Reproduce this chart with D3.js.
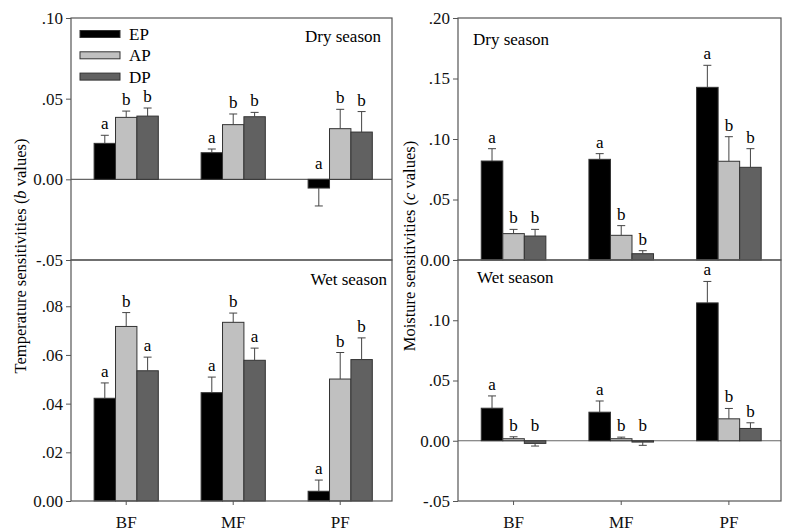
<!DOCTYPE html>
<html lang="en">

<head>
    <meta charset="UTF-8" />
    <title>Temperature and moisture sensitivities</title>
    <style>
        body { margin: 0; background: #fff; }
        svg { display: block; }
        svg text { font-family: 'Liberation Serif', 'Times New Roman', serif; }
    </style>
</head>

<body>
    <svg id="chart" width="787" height="531"></svg>

    <script src="https://d3js.org/d3.v7.min.js"></script>
    <script>
        // forests and treatments
        const forests = ['BF', 'MF', 'PF'];
        const treatments = ['EP', 'AP', 'DP'];
        const fills = ['#000000', '#c0c0c0', '#616161'];

        // temperature sensitivities (b), rows = forests, cols = treatments
        const tempDryMean = [[0.0223, 0.0384, 0.0392], [0.0165, 0.0339, 0.0388], [-0.0054, 0.0314, 0.0293]];
        const tempDryErr = [[0.0050, 0.0039, 0.0050], [0.0023, 0.0066, 0.0027], [0.0111, 0.0120, 0.0127]];
        const tempDryLetters = [['a', 'b', 'b'], ['a', 'b', 'b'], ['a', 'b', 'b']];

        const tempWetMean = [[0.0422, 0.0717, 0.0535], [0.0445, 0.0734, 0.0578], [0.0040, 0.0501, 0.0581]];
        const tempWetErr = [[0.0063, 0.0057, 0.0056], [0.0064, 0.0038, 0.0050], [0.0046, 0.0109, 0.0089]];
        const tempWetLetters = [['a', 'b', 'a'], ['a', 'b', 'a'], ['a', 'b', 'b']];

        // moisture sensitivities (c)
        const moistDryMean = [[0.0818, 0.0218, 0.0198], [0.0832, 0.0204, 0.0052], [0.1427, 0.0816, 0.0766]];
        const moistDryErr = [[0.0102, 0.0035, 0.0055], [0.0047, 0.0080, 0.0025], [0.0182, 0.0203, 0.0154]];
        const moistDryLetters = [['a', 'b', 'b'], ['a', 'b', 'b'], ['a', 'b', 'b']];

        const moistWetMean = [[0.0270, 0.0017, -0.0022], [0.0237, 0.0017, -0.0011], [0.1144, 0.0182, 0.0102]];
        const moistWetErr = [[0.0102, 0.0016, 0.0022], [0.0093, 0.0013, 0.0027], [0.0178, 0.0086, 0.0047]];
        const moistWetLetters = [['a', 'b', 'b'], ['a', 'b', 'b'], ['a', 'b', 'b']];

        // y ticks per panel
        const tempDryTicks = [-0.05, 0, 0.05, 0.10];
        const tempWetTicks = [0, 0.02, 0.04, 0.06, 0.08];
        const moistDryTicks = [0, 0.05, 0.10, 0.15, 0.20];
        const moistWetTicks = [-0.05, 0, 0.05, 0.10];

        const svg = d3.select('#chart');
        const frameColor = '#555';
        const fmt = v => v === 0 ? '0.00' : d3.format('.2f')(v).replace('\u2212', '-').replace('0.', '.');

        const styleAxis = a => {
            a.attr('font-family', null).attr('font-size', null);
            a.select('.domain').remove();
            a.selectAll('line').attr('stroke', frameColor);
            a.selectAll('text').attr('font-size', 17).attr('fill', '#111');
        };

        const drawPanel = p => {
            const x = d3.scaleBand().domain(forests).range([p.x0, p.x1])
                .paddingInner(0.4).paddingOuter(0.2).align(0.54);
            const sub = d3.scaleBand().domain(treatments).range([0, x.bandwidth()]);
            const y = d3.scaleLinear().domain(p.domain).range([p.y1, p.y0]);
            const g = svg.append('g');

            const rows = [];
            forests.forEach((f, i) => treatments.forEach((t, j) => rows.push({
                f, t, j, mean: p.mean[i][j], err: p.err[i][j], letter: p.letters[i][j]
            })));

            // y axis
            g.append('g')
                .attr('transform', `translate(${p.x0},0)`)
                .call(d3.axisLeft(y).tickValues(p.ticks).tickFormat(fmt).tickSize(5).tickPadding(3))
                .call(styleAxis);

            // zero line
            if (p.domain[0] < 0) {
                g.append('line')
                    .attr('x1', p.x0).attr('x2', p.x1)
                    .attr('y1', y(0)).attr('y2', y(0))
                    .attr('stroke', '#666').attr('stroke-width', 1.2);
            }

            // bars
            g.selectAll('rect.bar').data(rows).join('rect')
                .attr('class', 'bar')
                .attr('x', d => x(d.f) + sub(d.t))
                .attr('width', sub.bandwidth())
                .attr('y', d => y(Math.max(0, d.mean)))
                .attr('height', d => Math.abs(y(d.mean) - y(0)))
                .attr('fill', d => fills[d.j])
                .attr('stroke', '#333').attr('stroke-width', 1);

            // error bars
            const eb = g.selectAll('g.err').data(rows).join('g').attr('class', 'err')
                .attr('transform', d => `translate(${x(d.f) + sub(d.t) + sub.bandwidth() / 2},0)`);
            const tip = d => d.mean < 0 ? d.mean - d.err : d.mean + d.err;
            eb.append('line')
                .attr('y1', d => y(d.mean)).attr('y2', d => y(tip(d)))
                .attr('stroke', '#444');
            eb.append('line')
                .attr('x1', -4).attr('x2', 4)
                .attr('y1', d => y(tip(d))).attr('y2', d => y(tip(d)))
                .attr('stroke', '#444');

            // significance letters
            eb.append('text')
                .attr('text-anchor', 'middle')
                .attr('font-size', 17)
                .attr('y', d => d.mean < 0 ? y(0) - 10 : y(tip(d)) - 6)
                .text(d => d.letter);

            // frame
            g.append('rect')
                .attr('x', p.x0).attr('y', p.y0)
                .attr('width', p.x1 - p.x0).attr('height', p.y1 - p.y0)
                .attr('fill', 'none').attr('stroke', frameColor).attr('stroke-width', 1.2);

            // season label
            g.append('text')
                .attr('x', p.labelX).attr('y', p.labelY)
                .attr('text-anchor', p.labelAnchor)
                .attr('font-size', 17)
                .text(p.season);

            // x axis
            if (p.bottom) {
                g.append('g')
                    .attr('transform', `translate(0,${p.y1})`)
                    .call(d3.axisBottom(x).tickSize(4).tickPadding(11))
                    .call(styleAxis);
            }
        };

        drawPanel({ x0: 71, x1: 392, y0: 18, y1: 260, domain: [-0.05, 0.10], ticks: tempDryTicks,
            mean: tempDryMean, err: tempDryErr, letters: tempDryLetters,
            season: 'Dry season', labelX: 381, labelY: 42, labelAnchor: 'end' });
        drawPanel({ x0: 71, x1: 392, y0: 260, y1: 501, domain: [0, 0.099], ticks: tempWetTicks,
            mean: tempWetMean, err: tempWetErr, letters: tempWetLetters,
            season: 'Wet season', labelX: 387, labelY: 285, labelAnchor: 'end', bottom: true });
        drawPanel({ x0: 458, x1: 781, y0: 18, y1: 260, domain: [0, 0.20], ticks: moistDryTicks,
            mean: moistDryMean, err: moistDryErr, letters: moistDryLetters,
            season: 'Dry season', labelX: 473, labelY: 45, labelAnchor: 'start' });
        drawPanel({ x0: 458, x1: 781, y0: 260, y1: 501, domain: [-0.05, 0.15], ticks: moistWetTicks,
            mean: moistWetMean, err: moistWetErr, letters: moistWetLetters,
            season: 'Wet season', labelX: 477, labelY: 283, labelAnchor: 'start', bottom: true });

        // legend
        const legend = svg.append('g').selectAll('g').data(treatments).join('g')
            .attr('transform', (d, i) => `translate(80,${34 + i * 21.3})`);
        legend.append('rect')
            .attr('x', 0).attr('y', -3.5).attr('width', 40).attr('height', 7)
            .attr('fill', (d, i) => fills[i]).attr('stroke', '#333');
        legend.append('text')
            .attr('x', 49).attr('dy', '0.35em')
            .attr('font-size', 17)
            .text(d => d);

        // axis titles
        const leftTitle = svg.append('text')
            .attr('transform', 'translate(26,256) rotate(-90)')
            .attr('text-anchor', 'middle').attr('font-size', 16.5);
        leftTitle.append('tspan').text('Temperature sensitivities (');
        leftTitle.append('tspan').attr('font-style', 'italic').text('b');
        leftTitle.append('tspan').text(' values)');

        const rightTitle = svg.append('text')
            .attr('transform', 'translate(415,246) rotate(-90)')
            .attr('text-anchor', 'middle').attr('font-size', 16.5);
        rightTitle.append('tspan').text('Moisture sensitivities (');
        rightTitle.append('tspan').attr('font-style', 'italic').text('c');
        rightTitle.append('tspan').text(' values)');
    </script>
</body>

</html>
